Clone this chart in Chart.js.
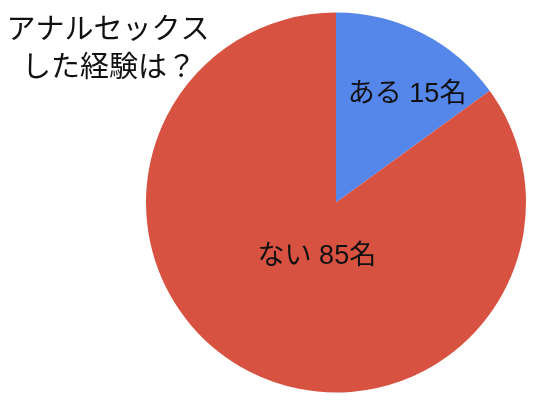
<!DOCTYPE html>
<html>
<head>
<meta charset="utf-8">
<script src="https://cdn.jsdelivr.net/npm/chart.js@4.4.1/dist/chart.umd.min.js"></script>
<style>
html,body{margin:0;padding:0;background:#fff;}
#wrap{width:540px;height:404px;position:relative;}
</style>
</head>
<body>
<div id="wrap"><canvas id="c" width="540" height="404"></canvas></div>
<script>
const categories = ["ある", "ない"];
const values = [15, 85];
const unit = "名";
const titleLines = ["アナルセックス", "した経験は？"];
const colors = ["#5586E9", "#D85242"];

const labelPlugin = {
  id: 'sliceLabels',
  afterDatasetsDraw(chart) {
    const ctx = chart.ctx;
    const meta = chart.getDatasetMeta(0);
    const place = [{da: 6.4, f: 0.68}, {da: -7.4, f: 0.30}];
    ctx.save();
    ctx.font = '27px "Liberation Sans", "Noto Sans CJK JP"';
    ctx.fillStyle = '#111';
    ctx.textAlign = 'center';
    ctx.textBaseline = 'middle';
    meta.data.forEach((arc, i) => {
      const p = arc.getProps(['x','y','startAngle','endAngle','outerRadius'], true);
      const a = (p.startAngle + p.endAngle) / 2 + place[i].da * Math.PI / 180;
      const r = p.outerRadius * place[i].f;
      ctx.fillText(categories[i] + ' ' + values[i] + unit, p.x + Math.cos(a) * r, p.y + Math.sin(a) * r);
    });
    ctx.restore();
  }
};

const titlePlugin = {
  id: 'cornerTitle',
  afterDraw(chart) {
    const ctx = chart.ctx;
    ctx.save();
    ctx.font = '29px "Noto Sans CJK JP"';
    ctx.fillStyle = '#111';
    ctx.textAlign = 'center';
    ctx.textBaseline = 'middle';
    ctx.fillText(titleLines[0], 108, 28);
    ctx.fillText(titleLines[1], 109, 66);
    ctx.restore();
  }
};

new Chart(document.getElementById('c'), {
  type: 'pie',
  data: {
    labels: categories,
    datasets: [{ data: values, backgroundColor: colors, borderWidth: 0 }]
  },
  options: {
    responsive: false,
    animation: false,
    layout: { padding: { left: 146, right: 14, top: 12.5, bottom: 11.5 } },
    plugins: { legend: { display: false }, tooltip: { enabled: false }, title: { display: false } }
  },
  plugins: [labelPlugin, titlePlugin]
});
</script>
</body>
</html>
